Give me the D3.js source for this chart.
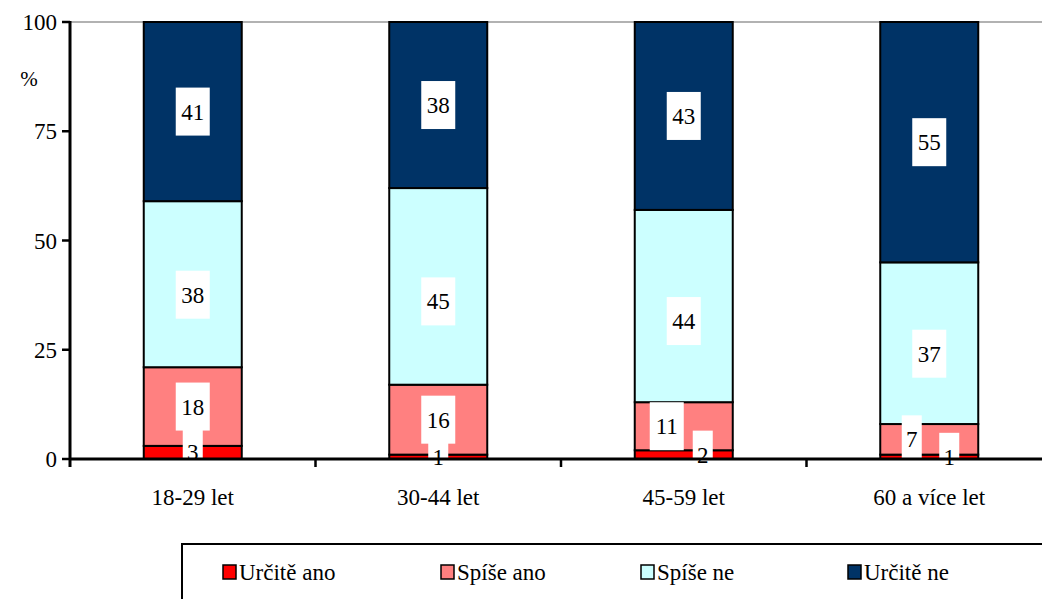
<!DOCTYPE html>
<html>
<head>
<meta charset="utf-8">
<script src="https://cdn.jsdelivr.net/npm/d3@7"></script>
<style>
  body { margin: 0; background: #fff; }
  svg text { font-family: "Liberation Serif", "DejaVu Serif", serif; }
</style>
</head>
<body>
<div id="chart"></div>
<script>
// categories and series (percent)
var categories = ["18-29 let", "30-44 let", "45-59 let", "60 a více let"];
var seriesNames = ["Určitě ano", "Spíše ano", "Spíše ne", "Určitě ne"];
var urciteAno = [3, 1, 2, 1];
var spiseAno = [18, 16, 11, 7];
var spiseNe = [38, 45, 44, 37];
var urciteNe = [41, 38, 43, 55];
var yTicks = [0, 25, 50, 75, 100];

var colors = ["#ff0000", "#ff8080", "#ccffff", "#003366"];
var FONT = "Liberation Serif";

// label nudges where Excel moved labels off the segment centre (px), per series
var labelDx = {
  "45-59 let": [19, -17, 0, 0],
  "60 a více let": [20, -17.5, 0, 0]
};
var labelDy = {
  "18-29 let": [0, 0, 10.5, 0],
  "30-44 let": [0, 0, 15, 0],
  "45-59 let": [0, 0, 15, 0],
  "60 a více let": [0, 0, 10.5, 0]
};

var width = 1042, height = 599;
var margin = { left: 70, top: 22, bottom: 459 };

var svg = d3.select("#chart").append("svg")
  .attr("width", width)
  .attr("height", height)
  .attr("font-family", FONT);

var x = d3.scaleBand()
  .domain(categories)
  .range([margin.left, margin.left + 4 * 245.5]);
var y = d3.scaleLinear()
  .domain([0, 100])
  .range([margin.bottom, margin.top]);

var barW = 98;

// plot area top border
svg.append("line")
  .attr("x1", margin.left).attr("x2", width)
  .attr("y1", y(100)).attr("y2", y(100))
  .style("stroke", "#999").style("stroke-width", 1.5);

// build stacked data
var rows = categories.map(function (c, i) {
  return { cat: c, v: [urciteAno[i], spiseAno[i], spiseNe[i], urciteNe[i]] };
});

rows.forEach(function (r) {
  var cum = 0;
  var cx = x(r.cat) + x.bandwidth() / 2;
  var dx = labelDx[r.cat] || [0, 0, 0, 0];
  var dy = labelDy[r.cat] || [0, 0, 0, 0];
  r.segs = r.v.map(function (v, k) {
    var s = { y0: cum, y1: cum + v, v: v, k: k, cx: cx, dx: dx[k], dy: dy[k] };
    cum += v;
    return s;
  });
});

var groups = svg.append("g").selectAll("g")
  .data(rows)
  .enter().append("g");

groups.selectAll("rect")
  .data(function (d) { return d.segs; })
  .enter().append("rect")
  .attr("x", function (d) { return d.cx - barW / 2; })
  .attr("width", barW)
  .attr("y", function (d) { return y(d.y1); })
  .attr("height", function (d) { return y(d.y0) - y(d.y1); })
  .style("fill", function (d) { return colors[d.k]; })
  .style("stroke", "#000")
  .style("stroke-width", 2);

// x axis line
svg.append("line")
  .attr("x1", margin.left).attr("x2", width)
  .attr("y1", y(0)).attr("y2", y(0))
  .style("stroke", "#000").style("stroke-width", 3);

// x ticks between categories
categories.slice(1).forEach(function (c) {
  svg.append("line")
    .attr("x1", x(c)).attr("x2", x(c))
    .attr("y1", y(0)).attr("y2", y(0) + 8)
    .style("stroke", "#000").style("stroke-width", 2.5);
});

// category labels
svg.append("g").selectAll("text")
  .data(categories)
  .enter().append("text")
  .attr("x", function (d) { return x(d) + x.bandwidth() / 2; })
  .attr("y", 505)
  .attr("text-anchor", "middle")
  .attr("font-family", FONT)
  .attr("font-size", 23)
  .text(function (d) { return d; });

// y axis
svg.append("line")
  .attr("x1", margin.left).attr("x2", margin.left)
  .attr("y1", y(100) - 1).attr("y2", y(0) + 8)
  .style("stroke", "#000").style("stroke-width", 3);

var yg = svg.append("g");
yTicks.forEach(function (t) {
  yg.append("line")
    .attr("x1", margin.left - 8).attr("x2", margin.left)
    .attr("y1", y(t)).attr("y2", y(t))
    .style("stroke", "#000").style("stroke-width", 2.5);
  yg.append("text")
    .attr("x", 57)
    .attr("y", y(t) + 8)
    .attr("text-anchor", "end")
    .attr("font-family", FONT)
    .attr("font-size", 23)
    .text(t);
});
svg.append("text")
  .attr("x", 29).attr("y", 86)
  .attr("text-anchor", "middle")
  .attr("font-family", FONT)
  .attr("font-size", 21)
  .text("%");

// value labels with white boxes
var labels = groups.selectAll("g.lbl")
  .data(function (d) { return d.segs; })
  .enter().append("g")
  .attr("class", "lbl")
  .attr("transform", function (d) {
    return "translate(" + (d.cx + d.dx) + "," + (y((d.y0 + d.y1) / 2) + d.dy) + ")";
  });

labels.append("rect")
  .attr("x", function (d) { return String(d.v).length > 1 ? -17 : -10; })
  .attr("width", function (d) { return String(d.v).length > 1 ? 34 : 20; })
  .attr("y", -24)
  .attr("height", 48)
  .style("fill", "#fff");

labels.append("text")
  .attr("text-anchor", "middle")
  .attr("y", 8)
  .attr("font-family", FONT)
  .attr("font-size", 23)
  .text(function (d) { return d.v; });

// legend
var legend = svg.append("g");
legend.append("rect")
  .attr("x", 182).attr("y", 544)
  .attr("width", 900).attr("height", 80)
  .style("fill", "#fff")
  .style("stroke", "#000")
  .style("stroke-width", 2);

var legendX = [223, 441, 641, 848];
seriesNames.forEach(function (name, i) {
  legend.append("rect")
    .attr("x", legendX[i]).attr("y", 565)
    .attr("width", 13).attr("height", 14)
    .style("fill", colors[i])
    .style("stroke", "#000")
    .style("stroke-width", 1.5);
  legend.append("text")
    .attr("x", legendX[i] + 16).attr("y", 580)
    .attr("font-family", FONT)
    .attr("font-size", 23)
    .text(name);
});
</script>
</body>
</html>
